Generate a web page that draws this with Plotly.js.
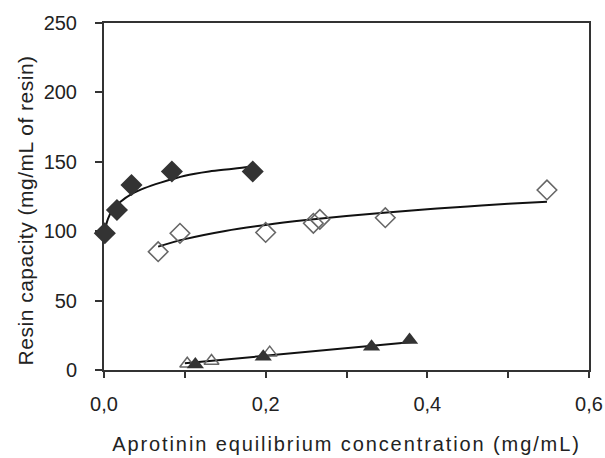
<!DOCTYPE html>
<html><head><meta charset="utf-8">
<script src="https://cdn.plot.ly/plotly-3.0.1.min.js"></script>
<style>html,body{margin:0;padding:0;background:#fff}#chart{width:605px;height:458px}
.xtitle{letter-spacing:1.9px}.annotation-text{letter-spacing:0.5px}</style>
</head><body><div id="chart"></div>
<script>
// Filled diamonds
const fdX = [0.001, 0.016, 0.034, 0.084, 0.184];
const fdY = [98.5, 115.3, 133.3, 143, 143];
// Open diamonds
const odX = [0.067, 0.094, 0.200, 0.259, 0.267, 0.348, 0.548];
const odY = [85.2, 98.5, 99.1, 105.7, 108.5, 109.7, 129.7];
// Filled triangles
const ftX = [0.113, 0.197, 0.331, 0.378];
const ftY = [4, 9.6, 16.8, 21.6];
// Open triangles
const otX = [0.103, 0.133, 0.205];
const otY = [4.5, 6.5, 12.5];
// Trend lines
const fitFdX = [0.002, 0.005, 0.01, 0.02, 0.035, 0.05, 0.07, 0.1, 0.13, 0.16, 0.185];
const fitFdY = [103, 109, 115, 121, 127, 131, 135, 140, 143, 145, 147];
const fitOdX = [0.067, 0.1, 0.15, 0.2, 0.25, 0.3, 0.35, 0.4, 0.45, 0.5, 0.548];
const fitOdY = [88.9, 94.3, 100.2, 104.5, 108.0, 111.0, 113.5, 115.8, 117.8, 119.7, 121.3];
const fitTrX = [0.1, 0.385];
const fitTrY = [4.8, 20.4];
const xTicks = [0, 0.2, 0.4, 0.6];
const yTicks = [0, 50, 100, 150, 200, 250];
const yTitle = 'Resin capacity (mg/mL of resin)';
const xTitle = 'Aprotinin equilibrium concentration (mg/mL)';

const lineStyle = {color: '#111', width: 2, shape: 'spline'};
const traces = [
  {x: fitFdX, y: fitFdY, mode: 'lines', line: lineStyle},
  {x: fitOdX, y: fitOdY, mode: 'lines', line: lineStyle},
  {x: fitTrX, y: fitTrY, mode: 'lines', line: {color: '#111', width: 2}},
  {x: odX, y: odY, mode: 'markers', marker: {symbol: 'diamond-open', size: 15, color: '#666', line: {width: 1.6, color: '#666'}}},
  {x: otX, y: otY, mode: 'markers', marker: {symbol: 'triangle-up-open', size: 13, color: '#666', line: {width: 1.5, color: '#666'}}},
  {x: fdX, y: fdY, mode: 'markers', marker: {symbol: 'diamond', size: 17, color: '#333', line: {width: 0}}},
  {x: ftX, y: ftY, mode: 'markers', marker: {symbol: 'triangle-up', size: 15, color: '#333', line: {width: 0}}}
];
traces.forEach(t => { t.showlegend = false; t.hoverinfo = 'skip'; t.cliponaxis = false; });

const tickFont = {family: 'Liberation Sans, Arial, sans-serif', size: 20, color: '#222'};
const xTitleFont = {family: 'Liberation Sans, Arial, sans-serif', size: 20, color: '#222'};
const yTitleFont = {family: 'Liberation Sans, Arial, sans-serif', size: 21, color: '#222'};
const layout = {
  width: 605, height: 458,
  margin: {l: 104, r: 16, t: 23, b: 88},
  paper_bgcolor: '#fff', plot_bgcolor: '#fff',
  separators: ', ',
  font: tickFont,
  showlegend: false,
  xaxis: {
    range: [0, 0.6], tickvals: xTicks, ticktext: xTicks.map(v => v.toFixed(1).replace('.', ',')),
    showgrid: false, zeroline: false, showline: true, linecolor: '#333', linewidth: 2, mirror: true,
    ticks: 'outside', ticklen: 6, tickwidth: 2, tickcolor: '#333', ticklabelstandoff: 9,
    minor: {dtick: 0.1, tick0: 0, ticks: 'outside', ticklen: 6, tickwidth: 2, tickcolor: '#333', showgrid: false},
    tickfont: tickFont,
    title: {text: xTitle, font: xTitleFont, standoff: 23}
  },
  yaxis: {
    range: [0, 250], tickvals: yTicks,
    showgrid: false, zeroline: false, showline: true, linecolor: '#333', linewidth: 2, mirror: true,
    ticks: 'outside', ticklen: 7, tickwidth: 2, tickcolor: '#333', ticklabelstandoff: 14,
    tickfont: tickFont
  },
  annotations: [{
    text: yTitle, font: yTitleFont, textangle: -90, showarrow: false,
    xref: 'paper', yref: 'paper', x: 0, y: 0.46, xanchor: 'center', yanchor: 'middle', xshift: -79
  }]
};
Plotly.newPlot('chart', traces, layout, {staticPlot: true, displayModeBar: false});
</script></body></html>
